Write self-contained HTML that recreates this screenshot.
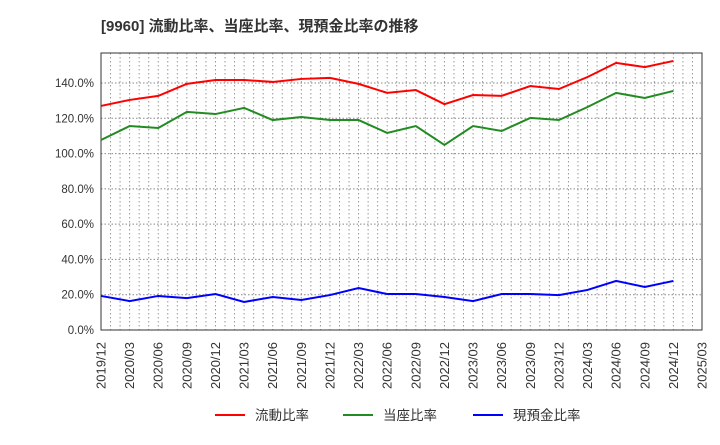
<!DOCTYPE html>
<html><head><meta charset="utf-8"><style>
body{margin:0;background:#fff;}
svg{font-family:"Liberation Sans","Noto Sans CJK JP",sans-serif;}
</style></head><body>
<svg id="chart" width="720" height="440"></svg>
<script>
const categories=["2019/12","2020/03","2020/06","2020/09","2020/12","2021/03","2021/06","2021/09","2021/12","2022/03","2022/06","2022/09","2022/12","2023/03","2023/06","2023/09","2023/12","2024/03","2024/06","2024/09","2024/12","2025/03"];
const currentRatio=[127,130.4,132.7,139.5,141.7,141.7,140.6,142.3,142.9,139.5,134.4,136,128,133.2,132.7,138.3,136.6,143.4,151.4,149,152.5];
const quickRatio=[107.7,115.6,114.5,123.6,122.4,125.9,119,120.7,119,119,111.7,115.6,104.9,115.6,112.8,120.2,119,126.4,134.4,131.5,135.5];
const cashRatio=[19.3,16.4,19.3,18.1,20.4,15.9,18.7,17,19.8,23.8,20.4,20.4,18.7,16.4,20.4,20.4,19.8,22.7,27.8,24.4,27.8];
const yTicks=[0,20,40,60,80,100,120,140];
const seriesNames=["流動比率","当座比率","現預金比率"];
const seriesColors=["#ff0000","#228b22","#0000ff"];

const NS="http://www.w3.org/2000/svg";
const svg=document.getElementById("chart");
const L=101,R=702,T=53,B=330,YMAX=157;
const x=i=>L+(R-L)*i/(categories.length-1);
const y=v=>B-(B-T)*v/YMAX;
function mk(tag,attrs,parent){const e=document.createElementNS(NS,tag);for(const k in attrs)e.setAttribute(k,attrs[k]);(parent||svg).appendChild(e);return e;}

const title=mk("text",{x:101,y:31,"font-size":"15","font-weight":"bold",fill:"#333"});


title.textContent="[9960]  流動比率、当座比率、現預金比率の推移";

const grid=mk("g",{});


for(let i=1;i<(categories.length-1)*3;i++){
  const gx=L+(R-L)*i/((categories.length-1)*3);
  mk("line",{x1:gx,x2:gx,y1:T,y2:B,stroke:"#999","stroke-dasharray":"1.5,2.5","stroke-width":1},grid);
}
yTicks.forEach(v=>{
  if(v>0)mk("line",{x1:L,x2:R,y1:y(v),y2:y(v),stroke:"#888","stroke-dasharray":"1.5,2","stroke-width":1},grid);
  const t=mk("text",{x:L-7,y:y(v)+4,"text-anchor":"end","font-size":"11.5",fill:"#333"});
  
  
  t.textContent=v.toFixed(1)+"%";
});
const frame=mk("rect",{x:L,y:T,width:R-L,height:B-T,fill:"none",stroke:"#333","stroke-width":1});



categories.forEach((c,i)=>{
  const t=mk("text",{transform:`translate(${x(i)+4.5},${B+12}) rotate(-90)`,"text-anchor":"end","font-size":"13",fill:"#333"});
  
  
  t.textContent=c;
});

[currentRatio,quickRatio,cashRatio].forEach((d,s)=>{
  const p=mk("polyline",{points:d.map((v,i)=>x(i)+","+y(v)).join(" "),fill:"none",stroke:seriesColors[s],"stroke-width":2});
  
  
});

const lx=[215,343,473];
seriesNames.forEach((n,s)=>{
  const g=mk("g",{});
  
  
  mk("line",{x1:lx[s],x2:lx[s]+30,y1:415,y2:415,stroke:seriesColors[s],"stroke-width":2},g);
  const t=mk("text",{x:lx[s]+40,y:420,"font-size":"13.5",fill:"#333"},g);
  t.textContent=n;
});
</script>
</body></html>
